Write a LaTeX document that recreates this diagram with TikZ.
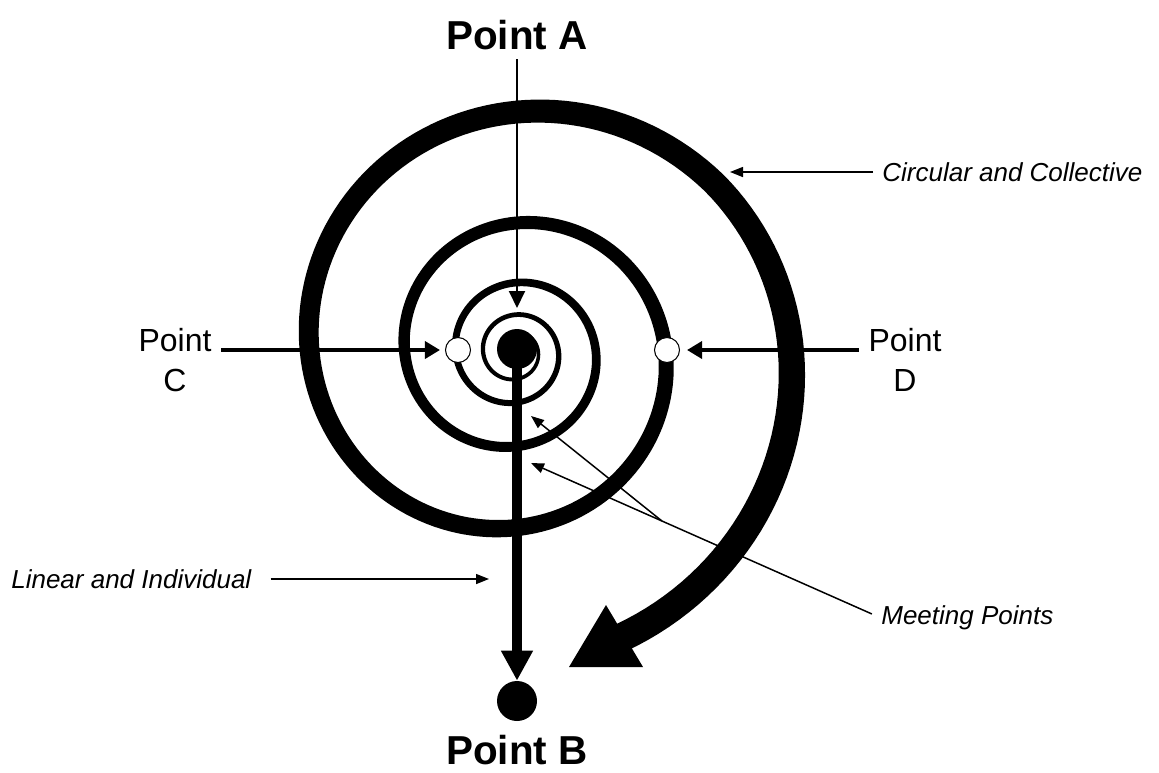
\documentclass[tikz,border=0pt]{standalone}
\usepackage{fontspec}
\setmainfont{Liberation Sans}
\usetikzlibrary{positioning,arrows.meta,calc}

\begin{document}
\begin{tikzpicture}[
    x=0.02cm, y=-0.02cm,
    declare function={sr(\t)=43.5*exp(0.001724*(\t-360))-0.1*max(0,\t-1400);},
    bigpt/.style={font=\fontsize{23}{27}\selectfont\bfseries, inner sep=0pt},
    sidept/.style={font=\fontsize{18.2}{22.8}\selectfont, align=center, inner sep=0.19cm},
    sidenote/.style={font=\fontsize{14.8}{18}\selectfont\itshape, inner sep=0pt},
    blackdot/.style={circle, fill=black, minimum size=0.8cm, inner sep=0pt},
    meetdot/.style={circle, draw=black, line width=0.6pt, fill=white, minimum size=0.5cm, inner sep=0pt},
    thinarr/.style={-{Triangle[length=0.34cm,width=0.32cm]}, line width=1.1pt},
    fatarr/.style={-{Triangle[length=0.6cm,width=0.6cm]}, line width=5.7pt},
    sidearr/.style={-{Triangle[length=0.3cm,width=0.34cm]}, line width=2pt},
    notearr/.style={-{Triangle[length=0.26cm,width=0.2cm]}, line width=0.85pt}
  ]
    \useasboundingbox (0,0) rectangle (1159,772);

    % spiral, widening as it winds out
    \fill[black] plot[domain=-60:1512, samples=700, variable=\t]
        ({515+(1.045*sr(\t)+0.7)*cos(\t)}, {352+(1.045*sr(\t)+0.7)*sin(\t)})
      -- plot[domain=1512:-60, samples=700, variable=\t]
        ({515+(0.955*sr(\t)-0.7)*cos(\t)}, {352+(0.955*sr(\t)-0.7)*sin(\t)})
      -- cycle;
    \fill[black] (606,605) -- (569,667) -- (643,667) -- cycle;

    \node[bigpt] (ptA) at (517,35) {Point A};
    \node[bigpt] (ptB) at (517,750) {Point B};
    \node[blackdot] (hub) at (517,349) {};
    \node[blackdot] (goal) at (517,701) {};
    \node[meetdot] (mC) at (458,350) {};
    \node[meetdot] (mD) at (667,350) {};
    \node[sidept] (ptC) at (175,360) {Point\\C};
    \node[sidept] (ptD) at (905,360) {Point\\D};
    \node[sidenote, anchor=west] (circ) at (882,172) {Circular and Collective};
    \node[sidenote, anchor=west] (lin) at (11,579) {Linear and Individual};
    \node[sidenote, anchor=west] (meet) at (881,618) {Meeting Points};

    \coordinate (aTip) at (517,308);
    \coordinate (circTip) at (730,172);
    \coordinate (linTip) at (489,579);
    \coordinate (meetTip1) at (531,463);
    \coordinate (meetTip2) at (531,416);
    \coordinate (meetJ) at ($(meet.west)!0.626!(meetTip1)$);

    \draw[thinarr, shorten <=0.18cm] (ptA) -- (aTip);
    \draw[fatarr] (hub.center) -- (goal);
    \draw[sidearr, shorten >=0.1cm] (ptC.east |- mC) -- (mC);
    \draw[sidearr, shorten >=0.14cm] (ptD.west |- mD) -- (mD);
    \draw[notearr, shorten <=0.18cm] (circ.west) -- (circTip);
    \draw[notearr, shorten <=0.38cm] (lin.east) -- (linTip);
    \draw[notearr, shorten <=0.2cm] (meet.west) -- (meetTip1);
    \draw[notearr] (meetJ) -- (meetTip2);
\end{tikzpicture}
\end{document}
